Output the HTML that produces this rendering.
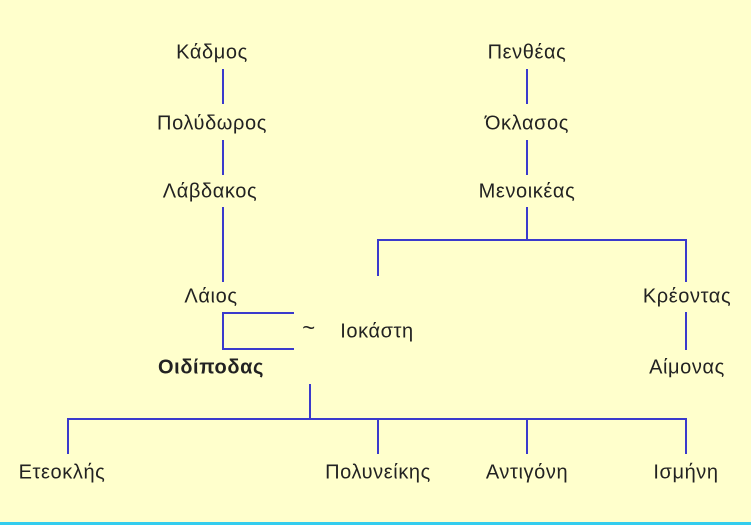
<!DOCTYPE html>
<html><head><meta charset="utf-8"><style>
html,body{margin:0;padding:0;}
body{width:751px;height:525px;background:#FFFFCC;position:relative;overflow:hidden;font-family:"Liberation Sans","DejaVu Sans",sans-serif;}
.t{position:absolute;font-size:20px;letter-spacing:0.6px;color:#222;transform:translate(-50%,-50%);white-space:nowrap;}
svg{position:absolute;left:0;top:0;}
</style></head><body>
<svg width="751" height="525">
<g stroke="#3A3ACC" stroke-width="2" fill="none">
<line x1="223" y1="69" x2="223" y2="104"/>
<line x1="223" y1="140" x2="223" y2="175"/>
<line x1="223" y1="207" x2="223" y2="282"/>
<polyline points="294,313 223,313 223,349 294,349"/>
<line x1="527" y1="69" x2="527" y2="104"/>
<line x1="527" y1="140" x2="527" y2="175"/>
<line x1="527" y1="207" x2="527" y2="240"/>
<line x1="377" y1="240" x2="687" y2="240"/>
<line x1="378" y1="240" x2="378" y2="276"/>
<line x1="686" y1="240" x2="686" y2="282"/>
<line x1="686" y1="312" x2="686" y2="350"/>
<line x1="310" y1="384" x2="310" y2="419"/>
<line x1="67" y1="419" x2="687" y2="419"/>
<line x1="68" y1="419" x2="68" y2="454"/>
<line x1="378" y1="419" x2="378" y2="454"/>
<line x1="527" y1="419" x2="527" y2="454"/>
<line x1="686" y1="419" x2="686" y2="454"/>
</g>
<rect x="0" y="522" width="751" height="3" fill="#33CCEE"/>
</svg>
<div class="t" style="left:212px;top:53px">Κάδμος</div>
<div class="t" style="left:212px;top:124px">Πολύδωρος</div>
<div class="t" style="left:210px;top:192px">Λάβδακος</div>
<div class="t" style="left:211px;top:297px">Λάιος</div>
<div class="t" style="left:211px;top:368px;font-weight:bold">Οιδίποδας</div>
<div class="t" style="left:309px;top:328px;font-size:22px">~</div>
<div class="t" style="left:377px;top:332px">Ιοκάστη</div>
<div class="t" style="left:527px;top:53px">Πενθέας</div>
<div class="t" style="left:527px;top:124px">Όκλασος</div>
<div class="t" style="left:527px;top:192px">Μενοικέας</div>
<div class="t" style="left:687px;top:297px">Κρέοντας</div>
<div class="t" style="left:687px;top:368px">Αίμονας</div>
<div class="t" style="left:62px;top:473px">Ετεοκλής</div>
<div class="t" style="left:378px;top:473px">Πολυνείκης</div>
<div class="t" style="left:527px;top:473px">Αντιγόνη</div>
<div class="t" style="left:686px;top:473px">Ισμήνη</div>
</body></html>
